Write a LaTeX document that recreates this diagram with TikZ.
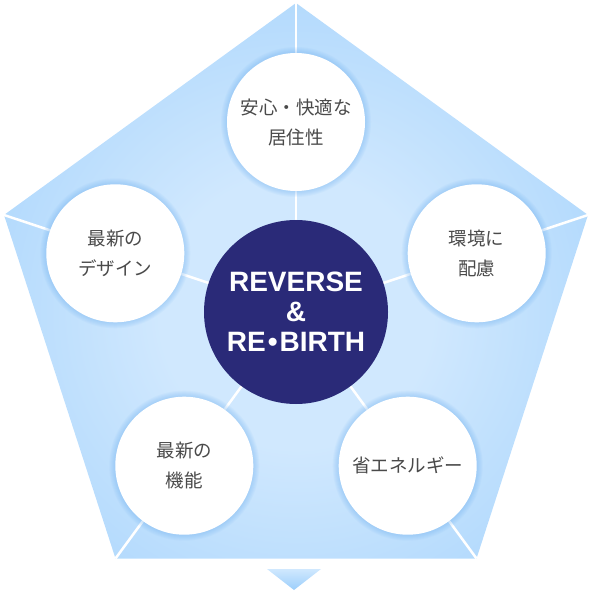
\documentclass[tikz,border=0pt]{standalone}
\usepackage{fontspec}
\setmainfont{Liberation Sans}
\newfontfamily\jpfont{Noto Sans CJK JP}
\usetikzlibrary{calc,positioning}

\definecolor{pentblue}{HTML}{9BCEFB}
\definecolor{pentlight}{HTML}{D0E8FE}
\definecolor{navy}{HTML}{2A2A78}
\definecolor{jptext}{HTML}{4A4A4A}
\definecolor{glow}{HTML}{6FB2F2}

\pgfdeclareradialshading{pentshade}{\pgfpoint{0bp}{0bp}}{%
  color(0bp)=(pentlight); color(10bp)=(pentlight);
  color(34bp)=(pentblue); color(50bp)=(pentblue)}

\tikzset{
  theme/.style={circle,fill=white,minimum size=138pt,inner sep=0pt,
    align=center,text=jptext,font=\jpfont\fontsize{18.5}{30}\selectfont},
  core/.style={circle,fill=navy,minimum size=184pt,inner sep=0pt,
    align=center,text=white,font=\bfseries\fontsize{28}{30}\selectfont},
  spoke/.style={white,line width=2.5pt},
}

\begin{document}
\begin{tikzpicture}[x=1pt,y=-1pt]
\useasboundingbox (0,0) rectangle (592,601);

\coordinate (v1) at (296,3);
\coordinate (v2) at (4,215);
\coordinate (v3) at (115.5,558.5);
\coordinate (v4) at (476.5,558.5);
\coordinate (v5) at (588,215);

\begin{scope}
\clip (v1) -- (v2) -- (v3) -- (v4) -- (v5) -- cycle;
\shade[shading=pentshade] (296,312) circle (340);
\end{scope}
\shade[top color=pentlight,bottom color=pentblue] (267,569) -- (321,569) -- (294,590) -- cycle;

\coordinate (mid) at (296,312);
\foreach \v in {v1,v2,v3,v4,v5}
  \draw[spoke] (mid) -- (\v);

% glow round the outer circles
\foreach \p in {(296,122),(115.3,253.3),(476.7,253.3),(184.3,465.7),(407.7,465.7)}
  \foreach \k in {1,...,6}
    \fill[glow,opacity=0.07] \p circle (69+\k);

\node[core] (rebirth) at (mid) {REVERSE\\\&\\RE\hspace{2pt}•\hspace{2pt}BIRTH};
\node[theme] (comfort) at (296,122) {安心・快適な\\居住性};
\node[theme] (design) at (115.3,253.3) {最新の\\デザイン};
\node[theme] (eco) at (476.7,253.3) {環境に\\配慮};
\node[theme] (function) at (184.3,465.7) {最新の\\機能};
\node[theme] (energy) at (407.7,465.7) {省エネルギー};
\end{tikzpicture}
\end{document}
